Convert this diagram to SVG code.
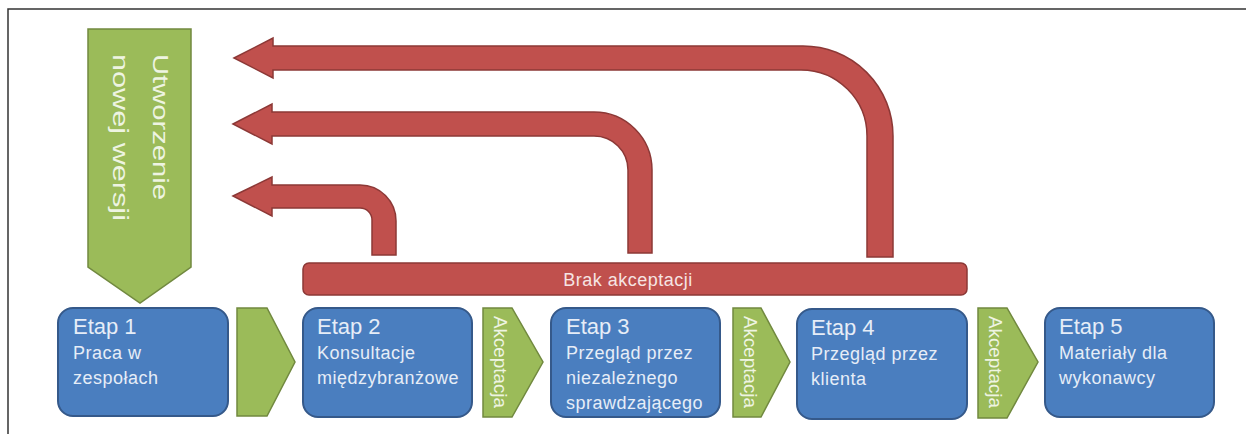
<svg xmlns="http://www.w3.org/2000/svg" width="1246" height="434" viewBox="0 0 1246 434">
<style>
.red{fill:#c0504d;stroke:#8c3836;stroke-width:1.5}
.grn{fill:#9bbb59;stroke:#71893f;stroke-width:1.5}
.box{fill:#4a7ebf;stroke:#35598a;stroke-width:2}
.t{font-family:"Liberation Sans",Arial,sans-serif;fill:#e6edf7}
.h{font-size:22px}
.s{font-size:18px;letter-spacing:0.5px}
.gt{font-family:"Liberation Sans",Arial,sans-serif;fill:#eef4e2}
.frame{stroke:#333;stroke-width:1.5;fill:none}
</style>
<rect width="1246" height="434" fill="#ffffff"/>
<path class="frame" d="M8,434 L8,9 L1246,9"/>

<g id="connectors">
  <path class="red" d="M234,58 L273,38 L273,46 L803,46 A90,90 0 0 1 893,136 L893,257 L867,257 L867,136 A66,66 0 0 0 801,70 L273,70 L273,78 Z"/>
  <path class="red" d="M233,124 L272,104 L272,112 L594,112 A58,58 0 0 1 652,170 L652,253 L628,253 L628,170 A34,34 0 0 0 594,136 L272,136 L272,144 Z"/>
  <path class="red" d="M233,196 L272,177 L272,185 L360,185 A36,36 0 0 1 396,221 L396,255 L372,255 L372,220 A12,12 0 0 0 360,208 L272,208 L272,216 Z"/>
</g>

<g id="brak">
  <rect class="red" x="303" y="263" width="664" height="32" rx="6"/>
  <text class="t" x="628" y="286" text-anchor="middle" font-size="18" letter-spacing="0.5" style="fill:#f6e4e3">Brak akceptacji</text>
</g>

<g id="nowa-wersja">
  <path class="grn" d="M88,29 L191,29 L191,267 L140,303 L88,267 Z"/>
  <text class="gt" font-size="22" transform="translate(153,54) rotate(90)" textLength="146" lengthAdjust="spacingAndGlyphs">Utworzenie</text>
  <text class="gt" font-size="22" transform="translate(113,54) rotate(90)" textLength="167" lengthAdjust="spacingAndGlyphs">nowej wersji</text>
</g>

<g id="etap1">
  <rect class="box" x="58" y="308" width="170" height="108" rx="15"/>
  <text class="t h" x="73" y="334">Etap 1</text>
  <text class="t s" x="73" y="359">Praca w</text>
  <text class="t s" x="73" y="384">zespołach</text>
</g>

<g id="strzalka1">
  <path class="grn" d="M237,308 L267,308 L295,362 L267,416 L237,416 Z"/>
</g>

<g id="etap2">
  <rect class="box" x="303" y="308" width="169" height="109" rx="15"/>
  <text class="t h" x="317" y="334">Etap 2</text>
  <text class="t s" x="317" y="359">Konsultacje</text>
  <text class="t s" x="317" y="384">międzybranżowe</text>
</g>

<g id="akceptacja1">
  <path class="grn" d="M483,308 L512,308 L543,362 L512,417 L483,417 Z"/>
  <text class="gt" font-size="19" transform="translate(494,316) rotate(90)" textLength="92" lengthAdjust="spacingAndGlyphs">Akceptacja</text>
</g>

<g id="etap3">
  <rect class="box" x="551" y="308" width="169" height="109" rx="15"/>
  <text class="t h" x="566" y="334">Etap 3</text>
  <text class="t s" x="566" y="359">Przegląd przez</text>
  <text class="t s" x="566" y="384">niezależnego</text>
  <text class="t s" x="566" y="409">sprawdzającego</text>
</g>

<g id="akceptacja2">
  <path class="grn" d="M733,308 L761,308 L790,362 L761,417 L733,417 Z"/>
  <text class="gt" font-size="19" transform="translate(744,316) rotate(90)" textLength="92" lengthAdjust="spacingAndGlyphs">Akceptacja</text>
</g>

<g id="etap4">
  <rect class="box" x="797" y="309" width="170" height="110" rx="15"/>
  <text class="t h" x="811" y="335">Etap 4</text>
  <text class="t s" x="811" y="360">Przegląd przez</text>
  <text class="t s" x="811" y="385">klienta</text>
</g>

<g id="akceptacja3">
  <path class="grn" d="M978,308 L1007,308 L1038,362 L1007,418 L978,418 Z"/>
  <text class="gt" font-size="19" transform="translate(989,316) rotate(90)" textLength="92" lengthAdjust="spacingAndGlyphs">Akceptacja</text>
</g>

<g id="etap5">
  <rect class="box" x="1045" y="308" width="169" height="109" rx="15"/>
  <text class="t h" x="1059" y="334">Etap 5</text>
  <text class="t s" x="1059" y="359">Materiały dla</text>
  <text class="t s" x="1059" y="384">wykonawcy</text>
</g>
</svg>
